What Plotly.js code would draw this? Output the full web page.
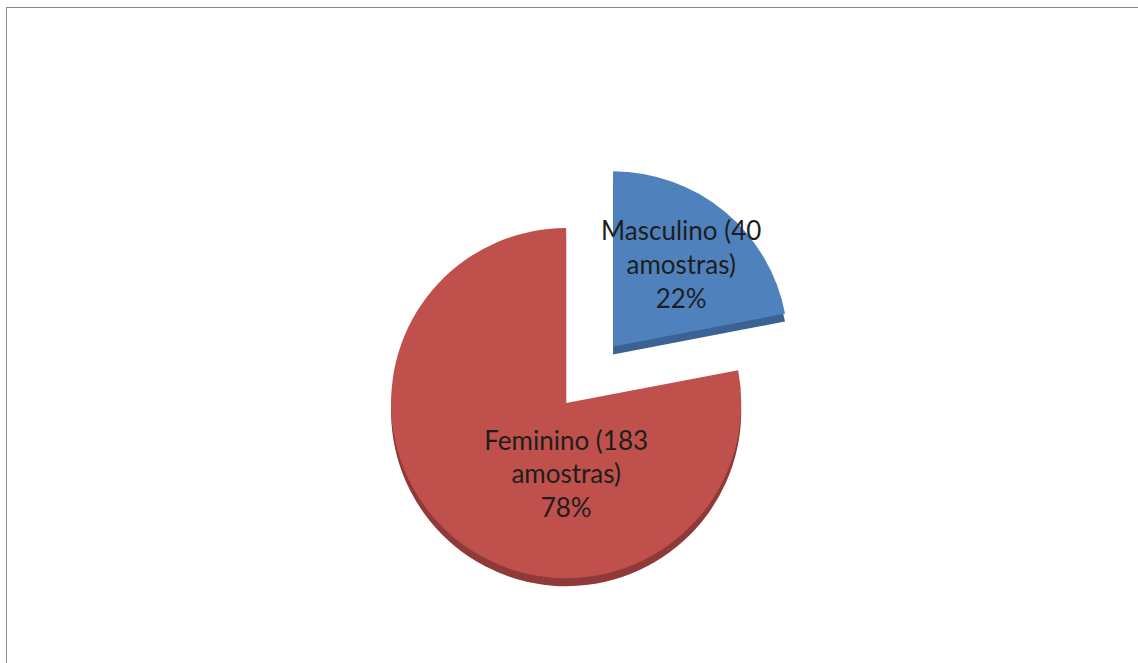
<!DOCTYPE html>
<html>
<head>
<meta charset="utf-8">
<script src="https://cdn.plot.ly/plotly-3.0.1.min.js"></script>
<style>
  html, body { margin: 0; padding: 0; background: #ffffff; overflow: hidden; }
  #wrap { position: relative; width: 1138px; height: 663px; }
  #chart { width: 1138px; height: 663px; }
  #frame { position: absolute; left: 6px; top: 7px; right: -10px; bottom: -10px;
           border-left: 1.5px solid #8a8a8a; border-top: 1.5px solid #8a8a8a;
           pointer-events: none; }
</style>
</head>
<body>
<div id="wrap">
  <div id="chart"></div>
  <div id="frame"></div>
</div>
<script>
// Data
const categories = ["Masculino", "Feminino"];
const sampleCounts = [40, 183];
const percentValues = [22, 78];
const sliceColors = ["#4f81bd", "#bf504c"];
const edgeColors = ["#3a6394", "#8f3a38"];
const explode = [0.42, 0];

const topDomain = { x: [0.279, 0.716], y: [0.012, 0.772] };
const edgeDomain = { x: [0.279, 0.716], y: [0.0, 0.76] };

const edgeTrace = {
  type: "pie",
  labels: categories,
  values: percentValues,
  sort: false,
  direction: "clockwise",
  rotation: 0,
  pull: explode,
  domain: edgeDomain,
  marker: { colors: edgeColors, line: { width: 0 } },
  textinfo: "none",
  hoverinfo: "skip",
  showlegend: false
};

const topTrace = {
  type: "pie",
  labels: categories,
  values: percentValues,
  customdata: sampleCounts,
  sort: false,
  direction: "clockwise",
  rotation: 0,
  pull: explode,
  domain: topDomain,
  marker: { colors: sliceColors, line: { width: 0 } },
  texttemplate: "%{label} (%{customdata}<br>amostras)<br>%{percent}",
  textposition: "inside",
  insidetextorientation: "horizontal",
  textfont: { family: "Lato, 'Open Sans', sans-serif", size: 26, color: "#1e1e1e" },
  hoverinfo: "label+percent",
  showlegend: false
};

const layout = {
  width: 1138,
  height: 663,
  margin: { l: 0, r: 0, t: 0, b: 0 },
  paper_bgcolor: "#ffffff",
  showlegend: false,
  uniformtext: { mode: "show", minsize: 26 }
};

Plotly.newPlot("chart", [edgeTrace, topTrace], layout, { displayModeBar: false, staticPlot: true });
</script>
</body>
</html>
